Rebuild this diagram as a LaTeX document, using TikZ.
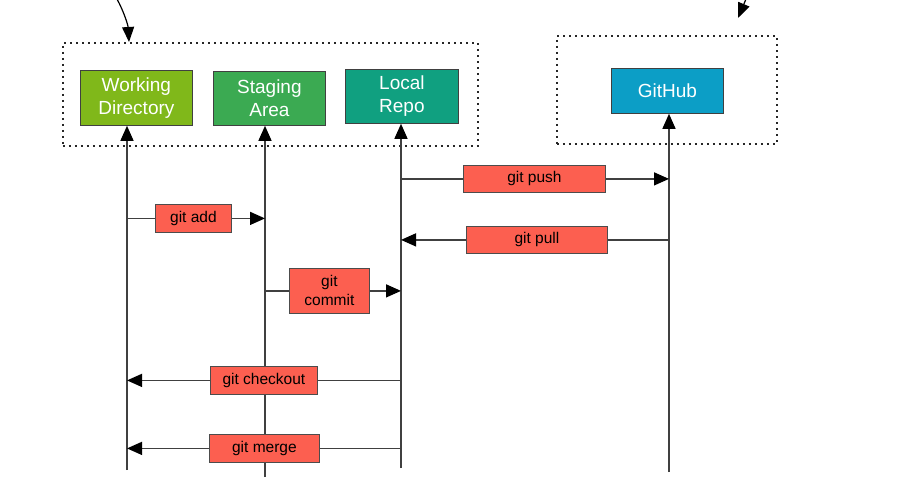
\documentclass[tikz,border=0pt]{standalone}
\usepackage{fontspec}
\setmainfont{Liberation Sans}
\usetikzlibrary{arrows.meta}
\definecolor{wdgreen}{HTML}{80B81A}
\definecolor{sagreen}{HTML}{3BAA52}
\definecolor{lrteal}{HTML}{10A080}
\definecolor{ghblue}{HTML}{0C9EC6}
\definecolor{lblred}{HTML}{FC5F50}
\definecolor{lineg}{HTML}{404040}
\begin{document}
\begin{tikzpicture}[x=1pt,y=-1pt,
  area/.style={draw=black!85, line width=1.8pt, dash pattern=on 1.8pt off 4.2pt},
  stage/.style={draw=black!75, line width=0.8pt, text=white, font=\fontsize{19}{23}\selectfont, align=center, inner sep=0pt, anchor=north west},
  cmd/.style={draw=black!70, fill=lblred, line width=0.8pt, font=\fontsize{15.5}{19}\selectfont, align=center, inner sep=0pt, anchor=north west},
  life/.style={draw=lineg, line width=1.4pt},
  tip/.style={-{Triangle[length=15pt,width=13pt,color=black]}, draw=lineg, line width=1.4pt},
  pointer/.style={-{Triangle[length=15pt,width=12pt]}, draw=black, line width=1.2pt}]
\useasboundingbox (0,0) rectangle (907,490);
\fill[white] (0,0) rectangle (907,490);
% areas
\node[area, minimum width=415pt, minimum height=103pt, anchor=north west, inner sep=0pt] (localarea) at (62,42) {};
\node[area, minimum width=220pt, minimum height=108pt, anchor=north west, inner sep=0pt] (remotearea) at (556,35) {};
% stages
\node[stage, fill=wdgreen, minimum width=112pt, minimum height=55pt] (wd) at (80,70) {Working\\Directory};
\node[stage, fill=sagreen, minimum width=112pt, minimum height=54pt] (sa) at (213,71) {Staging\\Area};
\node[stage, fill=lrteal, minimum width=113pt, minimum height=54pt] (lr) at (345,69) {Local\\Repo};
\node[stage, fill=ghblue, minimum width=112pt, minimum height=45pt] (gh) at (611,68) {GitHub};
% lifeline bottoms
\coordinate (wdb) at (127,470);
\coordinate (sab) at (265,477);
\coordinate (lrb) at (401,468);
\coordinate (ghb) at (669,472);
\draw[tip] (wdb) -- (wdb |- wd.south);
\draw[tip] (sab) -- (sab |- sa.south);
\draw[tip] (lrb) -- (lrb |- lr.south);
\draw[tip] (ghb) -- (ghb |- gh.south);
% commands
\node[cmd, minimum width=142pt, minimum height=27pt] (push) at (463,165) {git push};
\node[cmd, minimum width=76pt, minimum height=28pt] (add) at (155,204) {git add};
\node[cmd, minimum width=141pt, minimum height=27pt] (pull) at (466,226) {git pull};
\node[cmd, minimum width=80pt, minimum height=45pt] (commit) at (289,268) {git\\commit};
\node[cmd, minimum width=107pt, minimum height=28pt] (checkout) at (210,366) {git checkout};
\node[cmd, minimum width=110pt, minimum height=28pt] (merge) at (209,434) {git merge};
% connectors
\draw[life] (lrb |- push) -- (push.west);
\draw[tip] (push.east) -- (ghb |- push);
\draw[life] (wdb |- add) -- (add.west);
\draw[tip] (add.east) -- (sab |- add);
\draw[life] (ghb |- pull) -- (pull.east);
\draw[tip] (pull.west) -- (lrb |- pull);
\draw[life] (sab |- commit) -- (commit.west);
\draw[tip] (commit.east) -- (lrb |- commit);
\draw[life] (lrb |- checkout) -- (checkout.east);
\draw[tip] (checkout.west) -- (wdb |- checkout);
\draw[life] (lrb |- merge) -- (merge.east);
\draw[tip] (merge.west) -- (wdb |- merge);
% pointers
\coordinate (p1s) at (117,-1);
\coordinate (p2s) at (746,-1);
\draw[pointer] (p1s) .. controls (124,12) and (128,25) .. (localarea.north west -| 129,0);
\draw[pointer] (p2s) -- (738,18);
\end{tikzpicture}
\end{document}
